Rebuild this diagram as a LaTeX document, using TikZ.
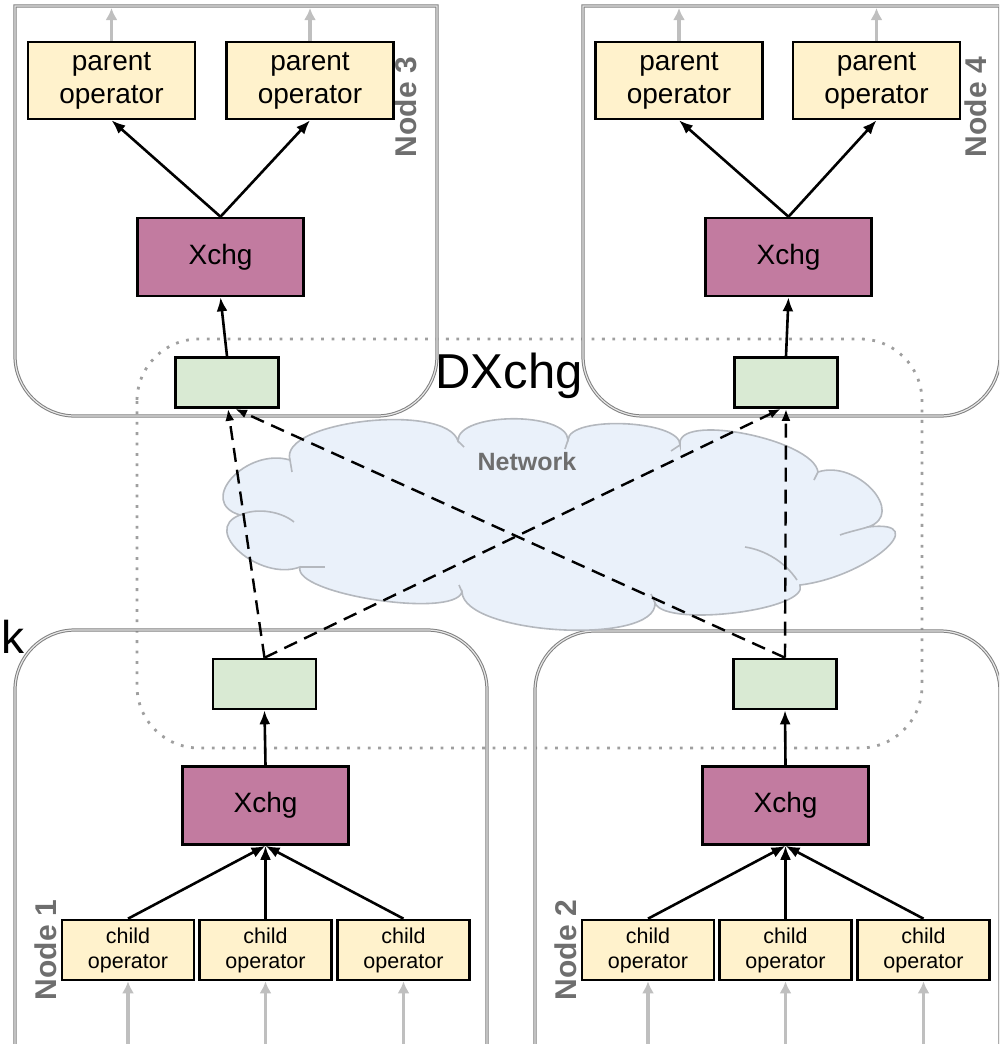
\documentclass[tikz,border=0pt]{standalone}
\usepackage{fontspec}
\setmainfont{Liberation Sans}
\usetikzlibrary{arrows.meta}
\definecolor{opfill}{HTML}{FFF2CC}
\definecolor{xfill}{HTML}{C27BA0}
\definecolor{buffill}{HTML}{D9EAD3}
\definecolor{cloudfill}{HTML}{EAF1FA}
\definecolor{cloudline}{HTML}{B4B8BE}
\definecolor{framegray}{HTML}{808080}
\definecolor{labelgray}{HTML}{6E6E6E}
\tikzset{
  box/.style={draw=black, line width=2.6pt, inner sep=0pt, align=center},
  parentop/.style={box, fill=opfill, minimum width=167pt, minimum height=77pt,
    font=\fontsize{28}{33}\selectfont},
  childop/.style={box, fill=opfill, minimum width=132pt, minimum height=60pt,
    font=\fontsize{21.5}{25}\selectfont},
  xchgbox/.style={box, fill=xfill, minimum width=166pt, minimum height=78pt,
    font=\fontsize{28}{33}\selectfont},
  bufbox/.style={box, fill=buffill, minimum width=103pt, minimum height=50pt},
  frame/.style={draw=framegray, line width=1pt, double=gray!20, double distance=1.2pt},
  nodelabel/.style={text=labelgray, font=\fontsize{30}{33}\selectfont\bfseries, rotate=90},
  flow/.style={draw=black, line width=2.6pt, -{Latex[length=14pt,width=11pt]}},
  feed/.style={draw=gray!50, line width=3.4pt, -{Latex[length=12pt,width=12pt]}},
  shuffle/.style={draw=black, line width=2.4pt, dash pattern=on 14pt off 8pt,
    -{Latex[length=12pt,width=9pt]}},
  dxregion/.style={draw=gray!75, line width=2.8pt, dash pattern=on 2.8pt off 7.6pt,
    rounded corners=62pt},
  cloudedge/.style={draw=cloudline, line width=1.6pt},
}
\begin{document}
\begin{tikzpicture}[x=1pt,y=1pt]
\useasboundingbox (0,0) rectangle (999,-1044);
\clip (0,0) rectangle (999,-1044);

% exchange region around the network
\draw[dxregion] (137,-339) rectangle (922,-748);

% machine frames
\draw[frame] (15,-6) -- (15,-356) arc[start angle=180,end angle=270,radius=60]
  -- (377,-416) arc[start angle=270,end angle=360,radius=60] -- (437,-6) -- cycle;
\draw[frame] (583,-6) -- (583,-356) arc[start angle=180,end angle=270,radius=60]
  -- (940,-416) arc[start angle=270,end angle=360,radius=60] -- (1000,-6) -- cycle;
\draw[frame] (15,-1060) -- (15,-690) arc[start angle=180,end angle=90,radius=60]
  -- (427,-630) arc[start angle=90,end angle=0,radius=60] -- (487,-1060);
\draw[frame] (535,-1060) -- (535,-691) arc[start angle=180,end angle=90,radius=60]
  -- (940,-631) arc[start angle=90,end angle=0,radius=60] -- (1000,-1060);

% network cloud: outline of eleven puffs
\path[cloudedge, fill=cloudfill]
  (240,-515) .. controls (196,-502) and (246,-447) .. (290,-460)
  .. controls (278,-421) and (446,-402) .. (458,-441)
  .. controls (457,-412) and (567,-411) .. (568,-440)
  .. controls (569,-415) and (681,-420) .. (680,-445)
  .. controls (675,-412) and (813,-439) .. (818,-472)
  .. controls (857,-459) and (907,-514) .. (868,-527)
  .. controls (935,-519) and (867,-577) .. (800,-585)
  .. controls (810,-610) and (665,-628) .. (655,-603)
  .. controls (657,-646) and (464,-635) .. (462,-592)
  .. controls (454,-619) and (292,-594) .. (300,-567)
  .. controls (260,-582) and (200,-530) .. cycle;
% inner puff seams
\draw[cloudedge] (240,-515) .. controls (258,-507) and (282,-512) .. (294,-522);
\draw[cloudedge] (290,-460) -- (292,-472);
\draw[cloudedge] (458,-441) -- (464,-447);
\draw[cloudedge] (568,-440) -- (565,-449);
\draw[cloudedge] (680,-445) -- (671,-451);
\draw[cloudedge] (818,-472) -- (814,-480);
\draw[cloudedge] (868,-527) .. controls (858,-530) and (848,-532) .. (840,-535);
\draw[cloudedge] (797,-580) .. controls (785,-562) and (765,-550) .. (745,-547);
\draw[cloudedge] (655,-603) -- (651,-594);
\draw[cloudedge] (462,-592) -- (459,-585);
\draw[cloudedge] (300,-567) -- (325,-567);
\node[text=labelgray, font=\fontsize{25}{28}\selectfont\bfseries] (netlabel)
  at (527,-462) {Network};

% labels
\node[anchor=base, font=\fontsize{49}{53}\selectfont] (dx) at (509,-388) {DXchg};
\node[anchor=base west, font=\fontsize{46}{50}\selectfont, inner sep=0pt] (kk)
  at (1,-653) {k};
\node[nodelabel] (n3) at (406,-107) {Node 3};
\node[nodelabel] (n4) at (976,-107) {Node 4};
\node[nodelabel] (n1) at (46,-950) {Node 1};
\node[nodelabel] (n2) at (566,-950) {Node 2};

% Node 3
\node[parentop] (p31) at (111.5,-80.5) {parent\\operator};
\node[parentop] (p32) at (310,-80.5) {parent\\operator};
\node[xchgbox] (x3) at (220.5,-257) {Xchg};
\node[bufbox] (b3) at (227,-382.5) {};
% Node 4
\node[parentop] (p41) at (679,-80.5) {parent\\operator};
\node[parentop] (p42) at (876.5,-80.5) {parent\\operator};
\node[xchgbox] (x4) at (788.5,-257) {Xchg};
\node[bufbox] (b4) at (786,-382.5) {};
% Node 1
\node[bufbox] (b1) at (264.5,-684) {};
\node[xchgbox] (x1) at (265.5,-805.5) {Xchg};
\node[childop] (c11) at (128,-950) {child\\operator};
\node[childop] (c12) at (265.5,-950) {child\\operator};
\node[childop] (c13) at (403.5,-950) {child\\operator};
% Node 2
\node[bufbox] (b2) at (785,-684) {};
\node[xchgbox] (x2) at (785.5,-805.5) {Xchg};
\node[childop] (c21) at (648,-950) {child\\operator};
\node[childop] (c22) at (785.5,-950) {child\\operator};
\node[childop] (c23) at (923.5,-950) {child\\operator};

% free ends of the incoming and outgoing streams
\foreach \n/\x in {p31/111.5, p32/310, p41/679, p42/876.5}
  \coordinate (\n top) at (\x,-8);
\foreach \n/\x in {c11/128, c12/265.5, c13/403.5, c21/648, c22/785.5, c23/923.5}
  \coordinate (\n bot) at (\x,-1044);

\foreach \n in {p31,p32,p41,p42}
  \draw[feed] (\n.north) -- (\n top);
\foreach \n in {c11,c12,c13,c21,c22,c23}
  \draw[feed] (\n bot) -- (\n.south);

% local flow inside the receiving nodes
\draw[flow] (b3.north) -- (x3.south);
\draw[flow] (x3.north) -- (p31.south);
\draw[flow] (x3.north) -- (p32.south);
\draw[flow] (b4.north) -- (x4.south);
\draw[flow] (x4.north) -- (p41.south);
\draw[flow] (x4.north) -- (p42.south);

% local flow inside the sending nodes
\foreach \c in {c11,c12,c13}
  \draw[flow] (\c.north) -- (x1.south);
\draw[flow] (x1.north) -- (b1.south);
\foreach \c in {c21,c22,c23}
  \draw[flow] (\c.north) -- (x2.south);
\draw[flow] (x2.north) -- (b2.south);

% data shuffled over the network
\draw[shuffle] (b1.north) -- ([xshift=1pt]b3.south);
\draw[shuffle] (b1.north) -- ([xshift=-5pt]b4.south);
\draw[shuffle] (b2.north) -- ([xshift=8pt]b3.south);
\draw[shuffle] (b2.north) -- (b4.south);
\end{tikzpicture}
\end{document}
